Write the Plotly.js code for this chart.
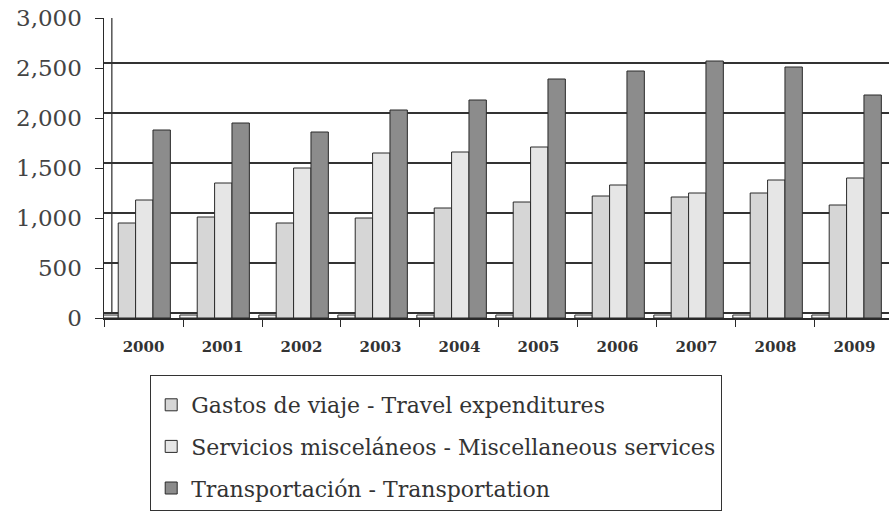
<!DOCTYPE html>
<html>
<head>
<meta charset="utf-8">
<script src="https://cdn.plot.ly/plotly-3.0.1.min.js"></script>
<style>html,body{margin:0;padding:0;background:#fff;}#chart{width:889px;height:514px;}</style>
</head>
<body>
<div id="chart"></div>
<script>
var years = ['2000','2001','2002','2003','2004','2005','2006','2007','2008','2009'];
var otros = [30, 30, 30, 30, 30, 30, 30, 30, 30, 30];
var gastosViaje = [950, 1010, 950, 1000, 1100, 1160, 1220, 1210, 1250, 1130];
var serviciosMisc = [1180, 1350, 1500, 1650, 1660, 1710, 1330, 1250, 1380, 1400];
var transportacion = [1880, 1950, 1860, 2080, 2180, 2390, 2470, 2570, 2510, 2230];
var yTicks = [0, 500, 1000, 1500, 2000, 2500, 3000];
var yTickText = ['0', '500', '1,000', '1,500', '2,000', '2,500', '3,000'];

var serif = "'DejaVu Serif', 'Liberation Serif', serif";
var edge = {color: '#2a2a2a', width: 1};
var bw = 0.22;

var traces = [
  {type: 'bar', name: 'Otros', x: years, y: otros, offset: -0.54, width: bw,
   marker: {color: '#f4f4f4', line: edge}, showlegend: false, legendgroup: 'o'},
  {type: 'bar', name: 'Gastos de viaje - Travel expenditures', x: years, y: gastosViaje, offset: -0.32, width: bw,
   marker: {color: '#d6d6d6', line: edge}, legendgroup: 'a'},
  {type: 'bar', name: 'Servicios misceláneos - Miscellaneous services', x: years, y: serviciosMisc, offset: -0.10, width: bw,
   marker: {color: '#e6e6e6', line: edge}, legendgroup: 'b'},
  {type: 'bar', name: 'Transportación - Transportation', x: years, y: transportacion, offset: 0.12, width: bw,
   marker: {color: '#8c8c8c', line: edge}, legendgroup: 'c'},
  {type: 'scatter', x: years, y: yTicks.slice(0,1), yaxis: 'y2', mode: 'none', showlegend: false, hoverinfo: 'skip'}
];

var layout = {
  width: 889, height: 514,
  margin: {l: 104, r: 0, t: 18, b: 196, autoexpand: false},
  paper_bgcolor: '#fff', plot_bgcolor: 'rgba(0,0,0,0)',
  barmode: 'overlay',
  showlegend: true,
  xaxis: {
    type: 'category', range: [-0.5, 9.437], fixedrange: true,
    showgrid: false, showline: true, linecolor: '#2a2a2a', linewidth: 1.5,
    ticks: 'outside', tickson: 'boundaries', ticklen: 7, tickcolor: '#2a2a2a',
    tickfont: {family: serif, size: 15, color: '#333', weight: 'bold'},
    ticklabelstandoff: 14
  },
  yaxis: {
    range: [0, 3000], showgrid: false, zeroline: false,
    showline: true, linecolor: '#2a2a2a', linewidth: 1.5,
    ticks: 'outside', ticklen: 8, tickcolor: '#2a2a2a',
    tickvals: yTicks, ticktext: yTickText,
    tickfont: {family: serif, size: 23, color: '#444'},
    ticklabelstandoff: 8
  },
  yaxis2: {
    overlaying: 'y', range: [-50, 2950], tickvals: yTicks, showticklabels: false,
    showgrid: true, gridcolor: '#333', gridwidth: 1.5, zeroline: false, showline: false
  },
  shapes: [
    {type: 'line', xref: 'paper', yref: 'y2', x0: 0.01, x1: 0.01, y0: 0, y1: 3000,
     line: {color: '#2a2a2a', width: 1.2}, layer: 'below'}
  ],
  legend: {
    x: 0.0586, y: -0.19, xanchor: 'left', yanchor: 'top',
    bordercolor: '#333', borderwidth: 1.2, bgcolor: '#fff',
    font: {family: serif, size: 22, color: '#333'},
    title: {text: '\u00a0', font: {size: 6}},
    traceorder: 'grouped', tracegroupgap: 10, itemwidth: 30
  }
};

Plotly.newPlot('chart', traces, layout, {displayModeBar: false, staticPlot: true});
</script>
</body>
</html>
